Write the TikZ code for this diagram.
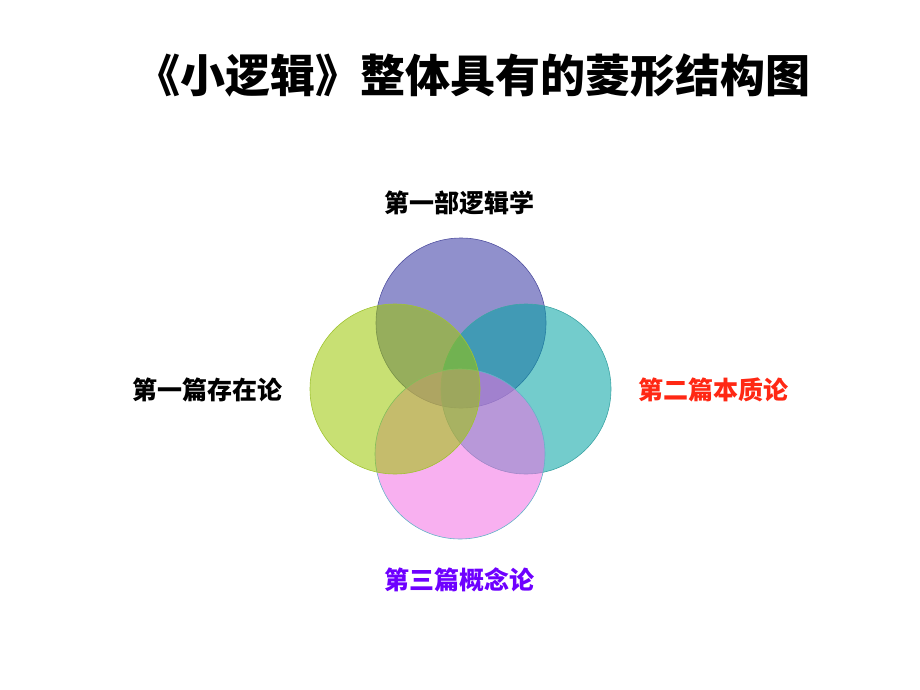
\documentclass[tikz,border=0pt]{standalone}
\usepackage{fontspec}
\newfontfamily\cjk{Noto Sans CJK SC}
\begin{document}
\begin{tikzpicture}[x=1pt,y=-1pt,
  ring/.style={circle, minimum size=170pt, inner sep=0pt, fill opacity=0.55, line width=0.6pt},
  lbl/.style={font=\cjk\bfseries\fontsize{25}{25}\selectfont, inner sep=0pt},
  ttl/.style={font=\cjk\bfseries\fontsize{45}{45}\selectfont, inner sep=0pt}]
\useasboundingbox (0,0) rectangle (920,690);
\definecolor{ctop}{RGB}{53,53,162}
\definecolor{cright}{RGB}{0,162,162}
\definecolor{cbot}{RGB}{242,111,228}
\definecolor{cleft}{RGB}{155,199,0}
\definecolor{etop}{RGB}{80,80,160}
\definecolor{eright}{RGB}{60,165,165}
\definecolor{ebot}{RGB}{100,180,200}
\definecolor{eleft}{RGB}{160,195,50}
\definecolor{redtxt}{RGB}{255,40,20}
\definecolor{purtxt}{RGB}{110,0,255}
\node[ttl] (title) at (473,75) {《小逻辑》整体具有的菱形结构图};
\node[ring, fill=ctop, draw=etop] (top) at (461,323) {};
\node[ring, fill=cright, draw=eright] (right) at (526,389) {};
\node[ring, fill=cbot, draw=ebot] (bottom) at (460,454) {};
\node[ring, fill=cleft, draw=eleft] (left) at (395,389) {};
\node[lbl] (ltop) at (459,203) {第一部逻辑学};
\node[lbl] (lleft) at (207,390) {第一篇存在论};
\node[lbl, text=redtxt] (lright) at (713,390) {第二篇本质论};
\node[lbl, text=purtxt] (lbot) at (459,580) {第三篇概念论};
\end{tikzpicture}
\end{document}
